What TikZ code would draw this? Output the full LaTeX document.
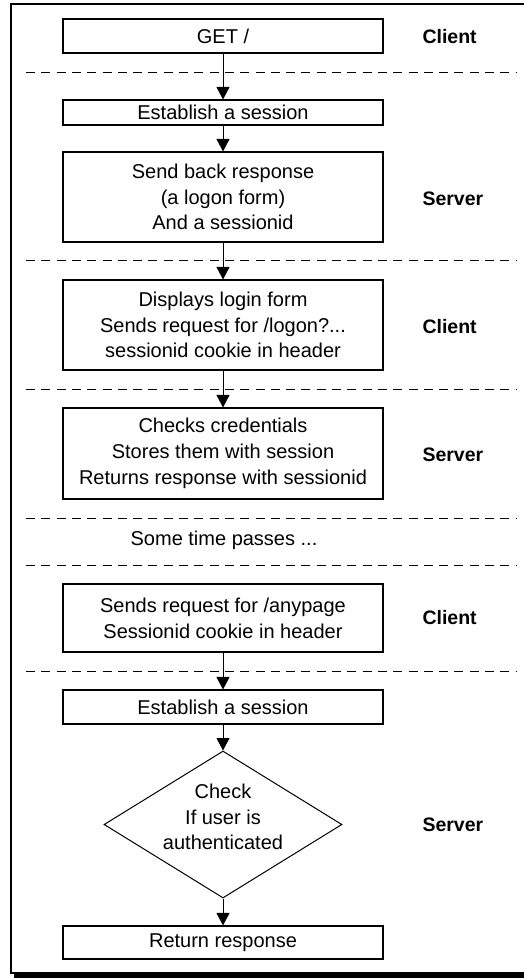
\documentclass[tikz,border=0pt]{standalone}
\usepackage{fontspec}
\setmainfont{Liberation Sans}
\usetikzlibrary{arrows.meta,shapes.geometric}
\begin{document}
\begin{tikzpicture}[x=1pt,y=-1pt,
  every node/.style={font=\fontsize{20}{25.7}\selectfont},
  box/.style={draw,line width=1.1pt,minimum width=320pt,inner sep=0pt,align=center},
  lbl/.style={anchor=west,font=\fontsize{19.5}{24}\selectfont\bfseries},
  sepline/.style={line width=0.9pt,dash pattern=on 9pt off 6.3pt},
  arr/.style={line width=1pt,-{Triangle[width=13pt,length=12.5pt]}}]
\useasboundingbox (0,0) rectangle (524,978);
% frame and shadow
\fill[black] (14,973.5) rectangle (530,978);
\draw[line width=1.2pt] (530,4) -- (11,4) -- (11,973) -- (530,973);
% boxes
\node[box,minimum height=34pt] (b1) at (223,36) {GET /};
\node[box,minimum height=25pt] (b2) at (223,112.5) {Establish a session};
\node[box,minimum height=90pt] (b3) at (223,197) {Send back response\\(a logon form)\\And a sessionid};
\node[box,minimum height=90pt] (b4) at (223,325) {Displays login form\\Sends request for /logon?...\\sessionid cookie in header};
\node[box,minimum height=91pt] (b5) at (223,453.5) {Checks credentials\\Stores them with session\\Returns response with sessionid};
\node (wait) at (224,540) {Some time passes ...};
\node[box,minimum height=68pt] (b6) at (223,618) {Sends request for /anypage\\Sessionid cookie in header};
\node[box,minimum height=34pt] (b7) at (223,707) {Establish a session};
\node[draw,line width=1pt,diamond,minimum width=238pt,minimum height=147pt,inner sep=0pt] (chk) at (223,824.5) {};
\node[align=center] (chktxt) at (223,817) {Check\\If user is\\authenticated};
\node[box,minimum height=33pt] (b8) at (223,942.5) {Return response};
% separators
\foreach \yy/\nm in {72/s1,260/s2,389/s3,518/s4,565/s5,671/s6}{
  \coordinate (\nm a) at (26,\yy);
  \coordinate (\nm b) at (516,\yy);
  \draw[sepline] (\nm a) -- (\nm b);
}
% side labels
\node[lbl] (l1) at (419,37) {Client};
\node[lbl] (l2) at (419,199) {Server};
\node[lbl] (l3) at (419,327) {Client};
\node[lbl] (l4) at (419,455) {Server};
\node[lbl] (l5) at (419,618) {Client};
\node[lbl] (l6) at (419,825) {Server};
% arrows
\draw[arr] (b1) -- (b2);
\draw[arr] (b2) -- (b3);
\draw[arr] (b3) -- (b4);
\draw[arr] (b4) -- (b5);
\draw[arr] (b6) -- (b7);
\draw[arr] (b7) -- (chk);
\draw[arr] (chk) -- (b8);
\end{tikzpicture}
\end{document}
